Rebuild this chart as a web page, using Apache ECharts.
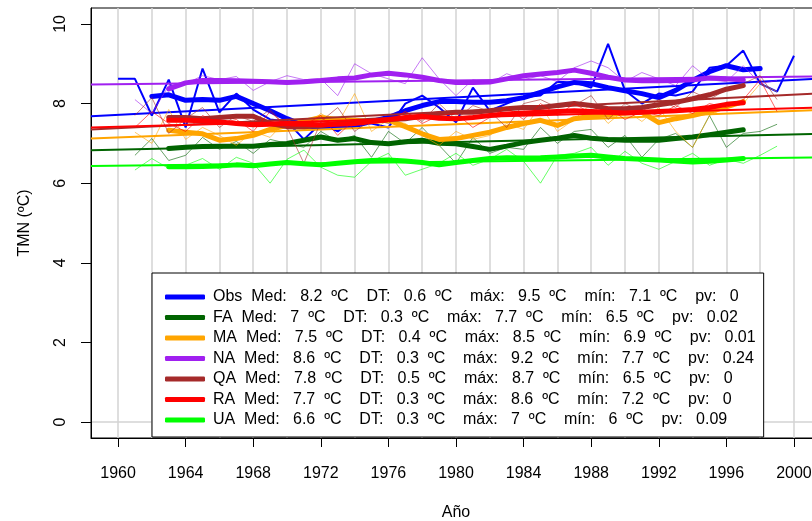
<!DOCTYPE html>
<html>
<head>
<meta charset="utf-8">
<script src="https://cdn.jsdelivr.net/npm/echarts@6/dist/echarts.min.js"></script>
<style>
html, body { margin: 0; padding: 0; background: #fff; }
#chart { width: 812px; height: 521px; }
</style>
</head>
<body>
<div id="chart"></div>
<script>
// years
function range(a, b, step) {
    const out = [];
    for (let v = a; v <= b; v += (step || 1)) out.push(v);
    return out;
}
const obsYears = range(1960, 2000);
const modelYears = range(1961, 1999);
const obsSmoothYears = range(1962, 1998);
const modelSmoothYears = range(1963, 1997);
const trendYears = [1958.4, 2001.6];
const xTicks = range(1960, 2000, 4);
const yTicks = [0, 2, 4, 6, 8, 10];
const gridYears = range(1960, 2000, 2);

const names = ['Obs', 'FA', 'MA', 'NA', 'QA', 'RA', 'UA'];
const colors = ['#0000ff', '#006400', '#ffa500', '#a020f0', '#a52a2a', '#ff0000', '#00ff00'];
const legendLabels = [
    'Obs  Med:   8.2  ºC    DT:   0.6  ºC    máx:   9.5  ºC    mín:   7.1  ºC    pv:   0',
    'FA  Med:   7  ºC    DT:   0.3  ºC    máx:   7.7  ºC    mín:   6.5  ºC    pv:   0.02',
    'MA  Med:   7.5  ºC    DT:   0.4  ºC    máx:   8.5  ºC    mín:   6.9  ºC    pv:   0.01',
    'NA  Med:   8.6  ºC    DT:   0.3  ºC    máx:   9.2  ºC    mín:   7.7  ºC    pv:   0.24',
    'QA  Med:   7.8  ºC    DT:   0.5  ºC    máx:   8.7  ºC    mín:   6.5  ºC    pv:   0',
    'RA  Med:   7.7  ºC    DT:   0.3  ºC    máx:   8.6  ºC    mín:   7.2  ºC    pv:   0',
    'UA  Med:   6.6  ºC    DT:   0.3  ºC    máx:   7  ºC    mín:   6  ºC    pv:   0.09'
];

// annual values
const obsRaw = [8.62, 8.62, 7.7, 8.6, 7.4, 8.88, 7.78, 8.25, 7.85, 7.6, 7.55, 7.1, 7.5, 7.3, 7.6, 7.5, 7.4, 8.0, 8.2, 7.9, 7.53, 8.4, 7.82, 8.0, 8.16, 8.2, 8.55, 8.53, 8.4, 9.5, 8.33, 8.0, 8.25, 8.2, 8.3, 8.9, 8.95, 9.33, 8.5, 8.3, 9.2];
const faRaw = [6.7, 7.12, 6.57, 6.7, 7.15, 6.85, 7.05, 6.75, 7.1, 7.0, 6.9, 7.3, 7.05, 7.2, 6.65, 7.3, 7.0, 7.4, 6.95, 6.5, 7.15, 6.75, 6.9, 6.85, 7.4, 7.0, 7.3, 7.35, 6.9, 7.2, 6.65, 7.1, 7.25, 6.9, 7.7, 6.9, 7.25, 7.3, 7.48];
const maRaw = [7.28, 7.0, 7.85, 7.1, 7.4, 7.2, 6.95, 7.3, 7.15, 7.6, 7.4, 7.75, 7.5, 8.25, 7.3, 7.6, 7.5, 7.2, 6.95, 7.3, 7.1, 7.2, 7.5, 7.35, 7.95, 7.3, 7.6, 8.0, 7.5, 7.85, 7.55, 7.9, 7.3, 6.9, 7.7, 7.9, 8.0, 8.5, 8.3];
const naRaw = [8.1, 7.75, 8.45, 8.5, 8.7, 8.6, 8.68, 8.33, 8.55, 8.7, 8.6, 8.62, 8.2, 9.0, 8.75, 8.62, 8.5, 9.15, 8.62, 8.2, 8.6, 8.5, 8.75, 8.6, 8.7, 8.55, 8.9, 9.07, 8.9, 8.55, 8.78, 8.62, 8.45, 8.95, 8.6, 8.55, 8.95, 8.5, 8.58];
const qaRaw = [7.7, 8.15, 7.25, 7.62, 7.9, 7.4, 7.7, 7.55, 7.85, 7.4, 6.5, 7.55, 7.9, 7.3, 7.6, 7.5, 7.8, 7.55, 8.0, 7.6, 7.95, 7.8, 7.4, 8.0, 8.1, 7.9, 7.95, 8.2, 7.6, 8.0, 7.8, 8.1, 7.9, 8.3, 8.1, 8.35, 8.5, 8.7, 8.1];
const raRaw = [7.4, 7.8, 7.5, 7.3, 7.7, 7.5, 7.6, 7.3, 7.8, 7.4, 7.45, 7.7, 7.2, 7.6, 7.5, 7.55, 7.8, 7.5, 7.7, 7.75, 7.4, 7.65, 7.9, 7.6, 8.0, 7.7, 8.0, 7.75, 7.9, 7.6, 7.8, 7.7, 7.95, 7.75, 8.0, 7.9, 8.1, 8.6, 7.8];
const uaRaw = [6.33, 6.62, 6.37, 6.45, 6.62, 6.35, 6.65, 6.5, 6.0, 6.6, 6.83, 6.4, 6.2, 6.15, 6.55, 6.75, 6.2, 6.35, 6.5, 6.75, 6.45, 6.6, 6.85, 6.55, 6.0, 6.7, 6.75, 6.9, 6.45, 6.8, 6.5, 6.35, 6.55, 6.75, 6.45, 6.6, 6.5, 6.7, 6.93];

// smoothed curves
const obsSmooth = [8.18, 8.22, 8.08, 8.1, 8.08, 8.18, 8.0, 7.82, 7.62, 7.45, 7.4, 7.42, 7.45, 7.55, 7.65, 7.82, 7.95, 8.05, 8.05, 8.03, 8.03, 8.07, 8.15, 8.28, 8.42, 8.53, 8.5, 8.4, 8.32, 8.25, 8.15, 8.33, 8.58, 8.8, 8.95, 8.85, 8.88];
const faSmooth = [6.87, 6.9, 6.92, 6.93, 6.93, 6.93, 6.97, 7.0, 7.08, 7.16, 7.08, 7.12, 7.02, 6.99, 7.04, 7.08, 7.0, 6.99, 6.92, 6.85, 6.93, 7.02, 7.08, 7.13, 7.2, 7.13, 7.1, 7.08, 7.08, 7.08, 7.12, 7.16, 7.22, 7.28, 7.34];
const maSmooth = [7.33, 7.28, 7.24, 7.08, 7.12, 7.2, 7.35, 7.45, 7.55, 7.65, 7.6, 7.58, 7.55, 7.58, 7.42, 7.24, 7.1, 7.12, 7.2, 7.28, 7.4, 7.5, 7.58, 7.45, 7.62, 7.68, 7.72, 7.76, 7.78, 7.52, 7.62, 7.7, 7.8, 7.92, 8.05];
const naSmooth = [8.37, 8.52, 8.58, 8.58, 8.57, 8.56, 8.55, 8.53, 8.55, 8.58, 8.62, 8.64, 8.72, 8.76, 8.72, 8.66, 8.58, 8.53, 8.53, 8.54, 8.62, 8.7, 8.74, 8.78, 8.84, 8.76, 8.66, 8.59, 8.57, 8.57, 8.58, 8.6, 8.64, 8.62, 8.59];
const qaSmooth = [7.65, 7.65, 7.62, 7.65, 7.68, 7.68, 7.5, 7.42, 7.42, 7.45, 7.5, 7.55, 7.58, 7.6, 7.62, 7.68, 7.75, 7.78, 7.78, 7.82, 7.87, 7.9, 7.9, 7.95, 8.0, 7.95, 7.87, 7.87, 7.9, 7.97, 8.03, 8.12, 8.22, 8.36, 8.45];
const raSmooth = [7.58, 7.58, 7.57, 7.54, 7.5, 7.47, 7.48, 7.5, 7.48, 7.47, 7.48, 7.5, 7.55, 7.6, 7.65, 7.68, 7.63, 7.62, 7.65, 7.7, 7.74, 7.76, 7.78, 7.8, 7.82, 7.8, 7.78, 7.76, 7.78, 7.8, 7.82, 7.85, 7.9, 7.98, 8.02];
const uaSmooth = [6.41, 6.41, 6.42, 6.43, 6.46, 6.44, 6.48, 6.52, 6.49, 6.46, 6.5, 6.54, 6.57, 6.58, 6.56, 6.52, 6.46, 6.52, 6.57, 6.62, 6.64, 6.63, 6.64, 6.66, 6.68, 6.7, 6.66, 6.62, 6.6, 6.58, 6.56, 6.53, 6.55, 6.58, 6.62];

// linear trends, value at left and right edge
const obsTrend = [7.68, 8.63];
const faTrend = [6.83, 7.24];
const maTrend = [7.12, 7.84];
const naTrend = [8.48, 8.68];
const qaTrend = [7.35, 8.26];
const raTrend = [7.4, 7.9];
const uaTrend = [6.43, 6.65];

const raws = [obsRaw, faRaw, maRaw, naRaw, qaRaw, raRaw, uaRaw];
const smooths = [obsSmooth, faSmooth, maSmooth, naSmooth, qaSmooth, raSmooth, uaSmooth];
const trends = [obsTrend, faTrend, maTrend, naTrend, qaTrend, raTrend, uaTrend];

const zip = (xs, ys) => ys.map((y, i) => [xs[i], y]);
const font = '"Liberation Sans", Arial, sans-serif';

// grey reference lines, under everything
const series = [{
    type: 'line',
    data: [],
    silent: true,
    z: 0,
    markLine: {
        silent: true,
        z: 0,
        symbol: ['none', 'none'],
        label: { show: false },
        animation: false,
        lineStyle: { color: '#d3d3d3', type: 'solid', width: 1.5 },
        data: gridYears.map(x => ({ xAxis: x })).concat([{ yAxis: 0 }])
    }
}];

names.forEach((n, i) => {
    const isObs = i === 0;
    series.push({
        name: n + ' anual',
        type: 'line',
        symbol: 'none',
        color: colors[i],
        data: zip(isObs ? obsYears : modelYears, raws[i]),
        lineStyle: { width: isObs ? 2 : 1, opacity: isObs ? 1 : 0.6 }
    });
    series.push({
        name: legendLabels[i],
        type: 'line',
        symbol: 'none',
        color: colors[i],
        data: zip(isObs ? obsSmoothYears : modelSmoothYears, smooths[i]),
        lineStyle: { width: 5, cap: 'round', join: 'round' }
    });
    series.push({
        name: n + ' tendencia',
        type: 'line',
        symbol: 'none',
        color: colors[i],
        data: zip(trendYears, trends[i]),
        lineStyle: { width: 2 }
    });
});

const chart = echarts.init(document.getElementById('chart'));
chart.setOption({
    animation: false,
    backgroundColor: '#fff',
    grid: {
        left: 91, top: 8, width: 730, height: 430,
        outerBoundsMode: 'none', containLabel: false,
        show: true, borderColor: '#000', borderWidth: 1
    },
    legend: {
        z: 50,
        data: legendLabels,
        orient: 'vertical',
        left: 152,
        top: 273,
        padding: [14, 8, 7, 13],
        itemGap: 0.5,
        itemWidth: 40,
        itemHeight: 5,
        icon: 'roundRect',
        selectedMode: false,
        backgroundColor: '#fff',
        borderColor: '#000',
        borderWidth: 1,
        borderRadius: 0,
        textStyle: { fontFamily: font, fontSize: 16, color: '#000', lineHeight: 20, padding: [0, 0, 0, 3] }
    },
    xAxis: {
        type: 'value',
        min: 1958.4,
        max: 2001.6,
        name: 'Año',
        nameLocation: 'middle',
        nameGap: 67,
        nameTextStyle: { fontFamily: font, fontSize: 16, color: '#000' },
        axisLine: { show: true, onZero: false, lineStyle: { color: '#000' } },
        axisTick: { show: true, length: 9, customValues: xTicks, lineStyle: { color: '#000' } },
        axisLabel: { customValues: xTicks, formatter: v => String(v), margin: 28, fontFamily: font, fontSize: 16, color: '#000' },
        splitLine: { show: false }
    },
    yAxis: {
        type: 'value',
        min: -0.4,
        max: 10.4,
        name: 'TMN (ºC)',
        nameLocation: 'middle',
        nameGap: 58,
        nameRotate: 90,
        nameTextStyle: { fontFamily: font, fontSize: 16, color: '#000' },
        axisLine: { show: true, onZero: false, lineStyle: { color: '#000' } },
        axisTick: { show: true, length: 10, customValues: yTicks, lineStyle: { color: '#000' } },
        axisLabel: { customValues: yTicks, formatter: v => String(v), rotate: 90, margin: 22, fontFamily: font, fontSize: 16, color: '#000' },
        splitLine: { show: false }
    },
    series: series
});
</script>
</body>
</html>
